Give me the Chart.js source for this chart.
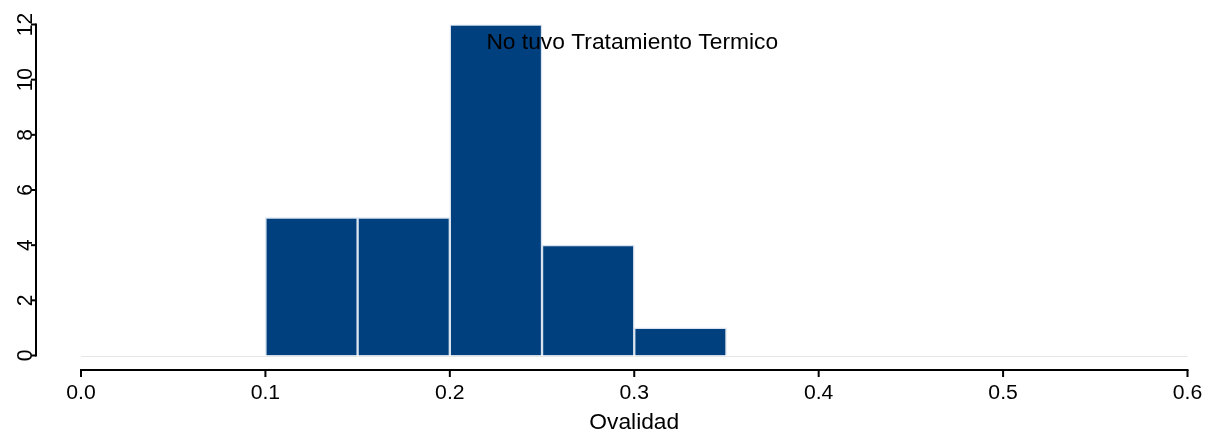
<!DOCTYPE html>
<html>
<head>
<meta charset="utf-8">
<title>Ovalidad</title>
<script src="https://cdn.jsdelivr.net/npm/chart.js@4.4.1/dist/chart.umd.min.js"></script>
<style>
  html, body { margin: 0; padding: 0; background: #ffffff; }
  #wrap { width: 1207px; height: 433px; }
</style>
</head>
<body>
<div id="wrap"><canvas id="hist" width="1207" height="433"></canvas></div>
<script>
// Histogram bins (left edges) and frequencies
const binStarts = [0.10, 0.15, 0.20, 0.25, 0.30];
const binWidth = 0.05;
const counts = [5, 5, 12, 4, 1];

// Axis ticks
const xTicks = [0.0, 0.1, 0.2, 0.3, 0.4, 0.5, 0.6];
const yTicks = [0, 2, 4, 6, 8, 10, 12];

const chartTitle = 'No tuvo Tratamiento Termico';
const xTitle = 'Ovalidad';

const FONT = '"Liberation Sans", Arial, Helvetica, sans-serif';
const INK = '#000000';
const STRETCH = 1.06; // slightly wide lettering

// bars sit at the bin centres on a linear x scale
const points = binStarts.map((s, i) => ({ x: s + binWidth / 2, y: counts[i] }));

function wideText(ctx, text, x, y) {
  ctx.save();
  ctx.translate(x, y);
  ctx.scale(STRETCH, 1);
  ctx.fillText(text, 0, 0);
  ctx.restore();
}

// Stata-like offset axes, baseline and inner title
const decorations = {
  id: 'decorations',
  beforeDatasetsDraw(chart) {
    const { ctx, scales: { x, y } } = chart;
    ctx.save();
    ctx.strokeStyle = '#e6e6e6';
    ctx.lineWidth = 1;
    const y0 = Math.round(y.getPixelForValue(0)) + 0.5;
    ctx.beginPath();
    ctx.moveTo(x.getPixelForValue(xTicks[0]), y0);
    ctx.lineTo(x.getPixelForValue(xTicks[xTicks.length - 1]), y0);
    ctx.stroke();
    ctx.restore();
  },
  afterDatasetsDraw(chart) {
    const { ctx, scales: { x, y } } = chart;
    ctx.save();
    ctx.strokeStyle = INK;
    ctx.fillStyle = INK;
    ctx.lineWidth = 2;

    // y axis, drawn left of the plot region
    const ax = 36;
    const yTop = y.getPixelForValue(yTicks[yTicks.length - 1]);
    const yBot = y.getPixelForValue(yTicks[0]);
    ctx.beginPath();
    ctx.moveTo(ax, yTop - 1);
    ctx.lineTo(ax, yBot + 1);
    ctx.stroke();
    ctx.font = '20px ' + FONT;
    ctx.textAlign = 'center';
    ctx.textBaseline = 'alphabetic';
    yTicks.forEach(v => {
      const py = y.getPixelForValue(v);
      ctx.beginPath();
      ctx.moveTo(ax - 5, py);
      ctx.lineTo(ax, py);
      ctx.stroke();
      ctx.save();
      ctx.translate(ax - 4, py);
      ctx.rotate(-Math.PI / 2);
      ctx.scale(1.05, 1.1);
      ctx.fillText(String(v), 0, 0);
      ctx.restore();
    });

    // x axis, drawn below the plot region
    const ay = 370;
    const xL = x.getPixelForValue(xTicks[0]);
    const xR = x.getPixelForValue(xTicks[xTicks.length - 1]);
    ctx.beginPath();
    ctx.moveTo(xL - 1, ay);
    ctx.lineTo(xR + 1, ay);
    ctx.stroke();
    ctx.font = '20px ' + FONT;
    xTicks.forEach(v => {
      const px = x.getPixelForValue(v);
      ctx.beginPath();
      ctx.moveTo(px, ay);
      ctx.lineTo(px, ay + 7);
      ctx.stroke();
      wideText(ctx, v.toFixed(1), px, 398.5);
    });

    // axis title
    ctx.font = '21.5px ' + FONT;
    wideText(ctx, xTitle, (xL + xR) / 2, 428.5);

    // title inside the plot region
    wideText(ctx, chartTitle, (xL + xR) / 2 - 2, 48.5);
    ctx.restore();
  }
};

new Chart(document.getElementById('hist'), {
  type: 'bar',
  data: {
    datasets: [{
      data: points,
      backgroundColor: '#00407e',
      borderColor: '#d9e3ef',
      borderWidth: 1.5,
      barPercentage: 1,
      categoryPercentage: 1,
      grouped: false
    }]
  },
  options: {
    responsive: false,
    animation: false,
    events: [],
    layout: { padding: { left: 81, right: 19.5, top: 24.5, bottom: 77.5 } },
    plugins: {
      legend: { display: false },
      title: { display: false },
      tooltip: { enabled: false }
    },
    scales: {
      x: { type: 'linear', offset: false, min: xTicks[0], max: xTicks[xTicks.length - 1], display: false },
      y: { type: 'linear', min: yTicks[0], max: yTicks[yTicks.length - 1], display: false }
    }
  },
  plugins: [decorations]
});
</script>
</body>
</html>
